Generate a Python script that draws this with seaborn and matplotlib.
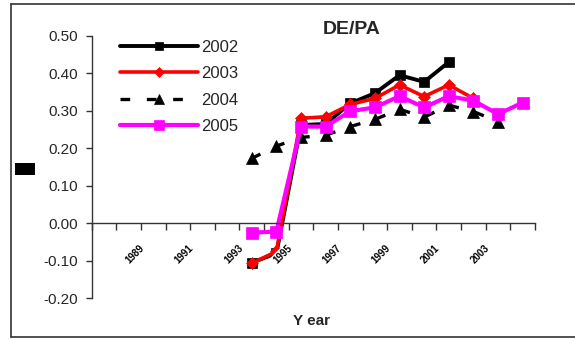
import numpy as np
import pandas as pd
import matplotlib
matplotlib.use("Agg")
import matplotlib.pyplot as plt
import seaborn as sns
from matplotlib.lines import Line2D
from matplotlib.patches import Rectangle

# ---- data ----
categories = ["1988", "1989", "1990", "1991", "1992", "1993", "1994", "1995", "1996",
              "1997", "1998", "1999", "2000", "2001", "2002", "2003", "2004", "2005"]
nan = np.nan
s2002 = [nan, nan, nan, nan, nan, nan, -0.105, -0.08, 0.262, 0.265, 0.32, 0.347, 0.395, 0.377, 0.43, nan, nan, nan]
s2003 = [nan, nan, nan, nan, nan, nan, -0.107, -0.075, 0.28, 0.284, 0.317, 0.333, 0.369, 0.338, 0.369, 0.333, nan, nan]
s2004 = [nan, nan, nan, nan, nan, nan, 0.173, 0.206, 0.229, 0.235, 0.258, 0.277, 0.304, 0.283, 0.315, 0.298, 0.271, nan]
s2005 = [nan, nan, nan, nan, nan, nan, -0.025, -0.022, 0.258, 0.258, 0.299, 0.309, 0.339, 0.309, 0.339, 0.327, 0.291, 0.322]
series_names = ["2002", "2003", "2004", "2005"]
label_idx = [1, 3, 5, 7, 9, 11, 13, 15]
yticks = [-0.20, -0.10, 0.00, 0.10, 0.20, 0.30, 0.40, 0.50]

sns.set_theme(style="white")
plt.rcParams["font.family"] = ["Liberation Sans", "DejaVu Sans"]

W, H = 575, 339
fig = plt.figure(figsize=(W / 100, H / 100), dpi=100)
ax = fig.add_axes([91.7 / W, 1 - 298.3 / H, (535 - 91.7) / W, (298.3 - 35.8) / H])

x = np.arange(len(categories))
styles = {
    "2002": dict(color="black", marker="s", markersize=7, linewidth=2.8, linestyle="-"),
    "2003": dict(color="#ff0000", marker="D", markersize=6.5, linewidth=2.6, linestyle="-"),
    "2004": dict(color="black", marker="^", markersize=8.5, linewidth=2.4, linestyle=(0, (2.9, 5.0))),
    "2005": dict(color="#ff00ff", marker="s", markersize=8.5, linewidth=3.0, linestyle="-"),
}
for name, vals in zip(series_names, [s2002, s2003, s2004, s2005]):
    df = pd.DataFrame({"x": x, "y": vals}).dropna()
    st = styles[name]
    sns.lineplot(data=df, x="x", y="y", ax=ax, label=name, color=st["color"],
                 marker=st["marker"], markersize=st["markersize"], linewidth=st["linewidth"],
                 linestyle=st["linestyle"], mec=st["color"], mfc=st["color"], mew=0.5)

ax.set_xlim(-0.5, len(categories) - 0.5)
ax.set_ylim(-0.20, 0.50)
ax.set_yticks(yticks)
ax.set_yticklabels([f"{v:.2f}" for v in yticks], fontsize=11)
ax.tick_params(axis="y", direction="out", length=4, width=1, color="#333333", pad=6, left=True)

ax.set_xticks(np.arange(len(categories) + 1) - 0.5)
ax.set_xticklabels([])
ax.tick_params(axis="x", direction="out", length=5, width=1, color="#333333", bottom=True)

for sp in ["top", "right"]:
    ax.spines[sp].set_visible(False)
ax.spines["bottom"].set_position(("data", 0))
ax.spines["left"].set_color("#333333")
ax.spines["bottom"].set_color("#333333")
ax.spines["left"].set_linewidth(1)
ax.spines["bottom"].set_linewidth(1)
ax.grid(False)

# rotated category labels below the zero line
for i in label_idx:
    ax.text(i + 0.26, -0.082, categories[i], rotation=45, ha="center", va="center",
            fontsize=7, fontweight="bold", color="black", zorder=5,
            bbox=dict(facecolor="white", edgecolor="none", pad=0.8))

ax.set_xlabel("Y ear", fontsize=11, fontweight="bold")
ax.xaxis.set_label_coords((311.7 - 91.7) / (535 - 91.7), -0.0857)
ax.xaxis.label.set_va("center")
ax.set_ylabel("")

ax.set_title("DE/PA", fontsize=14, fontweight="bold", x=(352 - 91.7) / (535 - 91.7),
             y=1 + (35.8 - 29.5) / (298.3 - 35.8), pad=0, va="center")

leg = ax.legend(loc="upper left", bbox_to_anchor=(120 / W, 1 - 40.0 / H),
                bbox_transform=fig.transFigure, frameon=False, fontsize=12,
                handlelength=4.7, handletextpad=0.18, labelspacing=0.68,
                borderpad=0, borderaxespad=0, numpoints=1, markerscale=0.85)

# y label rendered as a black block
fig.patches.append(Rectangle((15 / W, 1 - 175 / H), 20 / W, 12 / H, transform=fig.transFigure,
                             facecolor="black", edgecolor="none"))

# outer frame (left, top, bottom; right runs off canvas)
fx0, fy0, fy1 = 11 / W, 1 - 4 / H, 1 - 337 / H
for xs, ys in [([fx0, fx0], [fy0, fy1]), ([fx0, 1.0], [fy0, fy0]), ([fx0, 1.0], [fy1, fy1])]:
    fig.lines.append(Line2D(xs, ys, transform=fig.transFigure, color="#333333", linewidth=1.2))

fig.savefig("out.png", dpi=100)
